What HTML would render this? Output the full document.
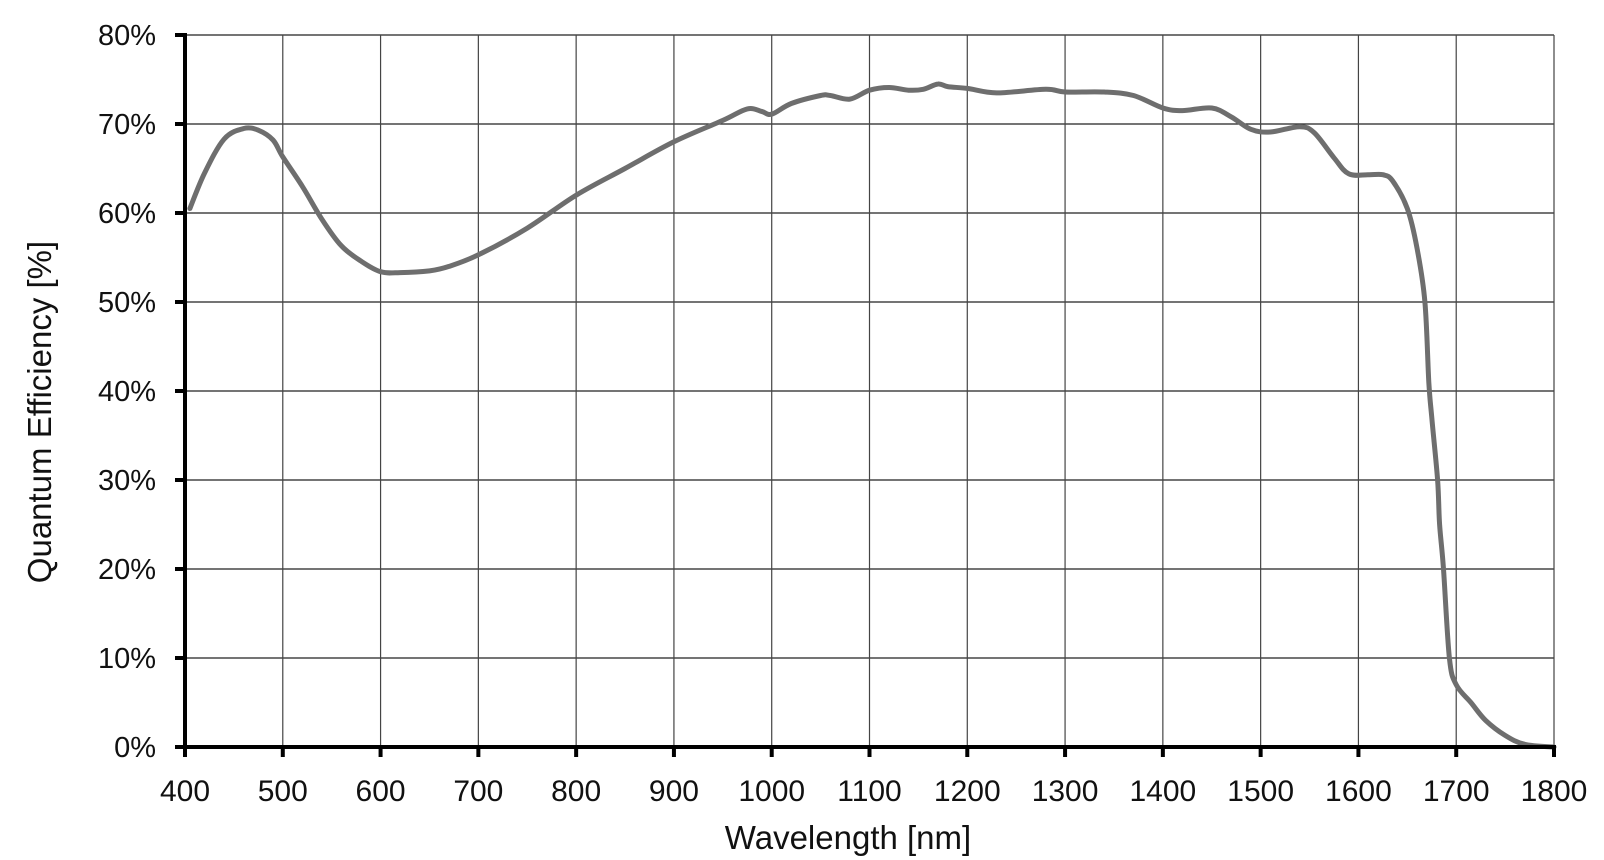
<!DOCTYPE html>
<html><head><meta charset="utf-8"><style>
html,body{margin:0;padding:0;background:#fff;}
svg{display:block;}
text{font-family:"Liberation Sans",sans-serif;fill:#111;}
</style></head><body>
<svg id="c" width="1604" height="860" viewBox="0 0 1604 860" xmlns="http://www.w3.org/2000/svg">
<g id="grid"></g>
<path id="curve" fill="none" stroke="#6e6e6e" stroke-width="5" stroke-linejoin="round" stroke-linecap="round"/>
<g id="axes"></g>
<text x="848" y="849" font-size="33" text-anchor="middle">Wavelength [nm]</text>
<text transform="translate(51,412) rotate(-90)" font-size="33" text-anchor="middle">Quantum Efficiency [%]</text>
</svg>
<script>
const X=n=>185+(n-400)*(1554-185)/1400, Y=p=>747-p*(747-35)/80;
const ns="http://www.w3.org/2000/svg";
function el(t,a,p,txt){const e=document.createElementNS(ns,t);for(const k in a)e.setAttribute(k,a[k]);if(txt!==undefined)e.textContent=txt;p.appendChild(e);return e;}
const g=document.getElementById('grid'),ax=document.getElementById('axes');
for(let p=10;p<=80;p+=10)el('line',{x1:185,x2:1554,y1:Y(p),y2:Y(p),stroke:'#222','stroke-width':1.2},g);
for(let n=500;n<=1800;n+=100)el('line',{x1:X(n),x2:X(n),y1:35,y2:747,stroke:'#444','stroke-width':1.2},g);
el('line',{x1:185,x2:185,y1:33,y2:749,stroke:'#000','stroke-width':4},ax);
el('line',{x1:183,x2:1556,y1:747,y2:747,stroke:'#000','stroke-width':4},ax);
for(let p=0;p<=80;p+=10){el('line',{x1:175,x2:185,y1:Y(p),y2:Y(p),stroke:'#000','stroke-width':4},ax);
 el('text',{x:156,y:Y(p)+10,'font-size':29,'text-anchor':'end'},ax,p+'%');}
for(let n=400;n<=1800;n+=100){el('line',{x1:X(n),x2:X(n),y1:747,y2:757,stroke:'#000','stroke-width':4},ax);
 el('text',{x:X(n),y:801,'font-size':30,'text-anchor':'middle'},ax,String(n));}
const d=[[405,60.5],[420,64.5],[440,68.3],[460,69.5],[475,69.3],[490,68.2],[500,66.3],[520,63],[540,59.3],[560,56.3],[580,54.6],[600,53.4],[620,53.3],[650,53.5],[670,54],[700,55.3],[750,58.3],[800,62],[850,65],[900,68],[950,70.4],[975,71.7],[990,71.4],[1000,71.1],[1020,72.3],[1050,73.2],[1060,73.2],[1080,72.8],[1100,73.8],[1120,74.1],[1140,73.8],[1155,73.9],[1170,74.5],[1180,74.2],[1200,74],[1230,73.5],[1280,73.9],[1300,73.6],[1340,73.6],[1370,73.2],[1400,71.8],[1420,71.5],[1450,71.8],[1470,70.8],[1490,69.4],[1510,69.1],[1540,69.7],[1555,69],[1575,66.2],[1590,64.4],[1610,64.3],[1625,64.3],[1635,63.6],[1650,60.5],[1660,56],[1668,50],[1672,41],[1675,37],[1681,30],[1683,25],[1687,20],[1693,10],[1700,7],[1715,5],[1730,3],[1750,1.3],[1770,0.3],[1800,0]];
const P=d.map(q=>[X(q[0]),Y(q[1])]);
let s='M'+P[0][0].toFixed(1)+','+P[0][1].toFixed(1);
for(let i=0;i<P.length-1;i++){const p0=P[Math.max(i-1,0)],p1=P[i],p2=P[i+1],p3=P[Math.min(i+2,P.length-1)];
 const c1=[p1[0]+(p2[0]-p0[0])/6,p1[1]+(p2[1]-p0[1])/6],c2=[p2[0]-(p3[0]-p1[0])/6,p2[1]-(p3[1]-p1[1])/6];
 s+=' C'+c1.map(v=>v.toFixed(1))+' '+c2.map(v=>v.toFixed(1))+' '+p2.map(v=>v.toFixed(1));}
document.getElementById('curve').setAttribute('d',s);
</script>
</body></html>
